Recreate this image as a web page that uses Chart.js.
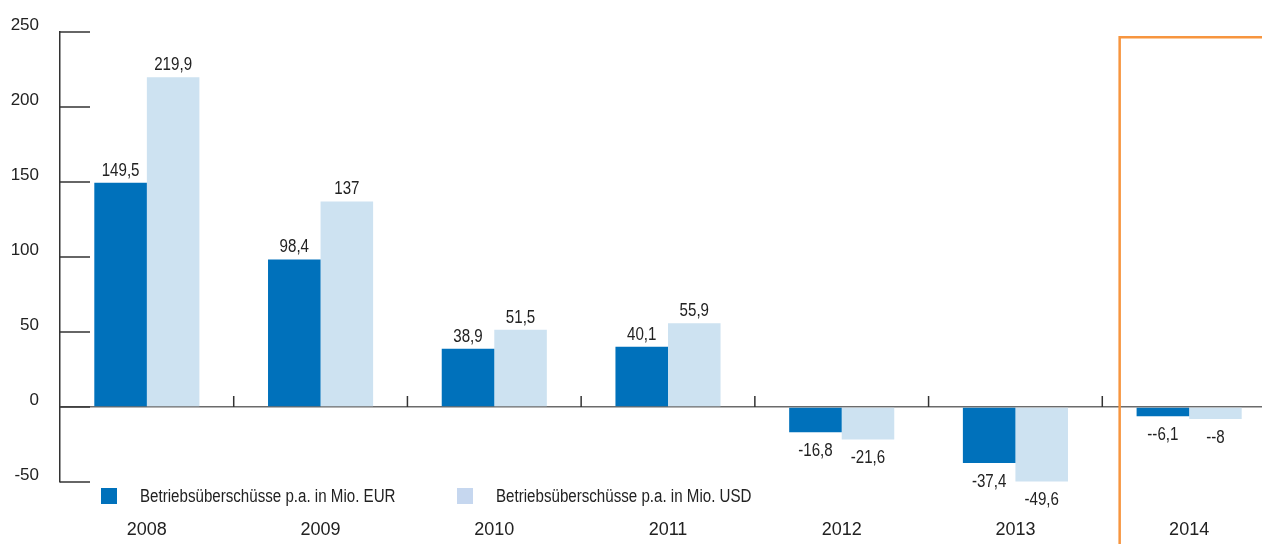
<!DOCTYPE html>
<html>
<head>
<meta charset="utf-8">
<script src="https://cdn.jsdelivr.net/npm/chart.js@4.4.1/dist/chart.umd.min.js"></script>
<style>
  html, body { margin: 0; padding: 0; background: #fff; overflow: hidden; }
  #wrap { width: 1276px; height: 544px; }
</style>
</head>
<body>
<div id="wrap"><canvas id="chart" width="1276" height="544"></canvas></div>
<script>
// data
const years = ['2008', '2009', '2010', '2011', '2012', '2013', '2014'];
const eurValues = [149.5, 98.4, 38.9, 40.1, -16.8, -37.4, -6.1];
const usdValues = [219.9, 137, 51.5, 55.9, -21.6, -49.6, -8];
const eurLabels = ['149,5', '98,4', '38,9', '40,1', '-16,8', '-37,4', '--6,1'];
const usdLabels = ['219,9', '137', '51,5', '55,9', '-21,6', '-49,6', '--8'];
const yTicks = [250, 200, 150, 100, 50, 0, -50];
const seriesNames = ['Betriebsüberschüsse p.a. in Mio. EUR', 'Betriebsüberschüsse p.a. in Mio. USD'];

const FONT = '"Liberation Sans", Arial, sans-serif';
const EUR_COLOR = '#0071bb';
const USD_COLOR = '#cde2f1';
const LEGEND_COLORS = ['#0071bb', '#c6d7ef'];
const TEXT = '#222';
const SQUEEZE = 0.84; // the original type is a narrow face

// draw narrow text by squeezing it horizontally
function narrowText(ctx, text, x, y) {
  ctx.save();
  ctx.translate(x, y);
  ctx.scale(SQUEEZE, 1);
  ctx.fillText(text, 0, 0);
  ctx.restore();
}

// ticks, value labels, legend and the orange frame
const decor = {
  id: 'decor',
  afterDatasetsDraw(chart) {
    const { ctx, chartArea: area, scales: { x, y } } = chart;
    const y0 = y.getPixelForValue(0);
    ctx.save();
    ctx.strokeStyle = '#333';
    ctx.lineWidth = 1.5;

    // y ticks drawn inside the plot
    y.ticks.forEach(t => {
      const py = y.getPixelForValue(t.value);
      ctx.beginPath();
      ctx.moveTo(area.left, py);
      ctx.lineTo(area.left + 30, py);
      ctx.stroke();
    });

    // small ticks between categories
    for (let i = 1; i < years.length; i++) {
      const px = (x.getPixelForValue(i - 1) + x.getPixelForValue(i)) / 2;
      ctx.beginPath();
      ctx.moveTo(px, y0 - 11);
      ctx.lineTo(px, y0);
      ctx.stroke();
    }

    // value labels
    const labelSets = [eurLabels, usdLabels];
    ctx.fillStyle = TEXT;
    ctx.font = '18px ' + FONT;
    ctx.textAlign = 'center';
    chart.data.datasets.forEach((ds, di) => {
      chart.getDatasetMeta(di).data.forEach((bar, i) => {
        const v = ds.data[i];
        if (v >= 0) {
          ctx.textBaseline = 'bottom';
          narrowText(ctx, labelSets[di][i], bar.x, bar.y - 3);
        } else {
          ctx.textBaseline = 'top';
          narrowText(ctx, labelSets[di][i], bar.x, bar.y + 10);
        }
      });
    });

    // legend inside the plot, under -50
    ctx.font = '18px ' + FONT;
    ctx.textAlign = 'left';
    ctx.textBaseline = 'middle';
    const legendX = [area.left + 41, area.left + 397];
    seriesNames.forEach((name, i) => {
      const lx = legendX[i];
      const ly = area.bottom + 6;
      ctx.fillStyle = LEGEND_COLORS[i];
      ctx.fillRect(lx, ly, 16, 16);
      ctx.fillStyle = TEXT;
      narrowText(ctx, name, lx + 39, ly + 9);
    });

    // orange frame round 2014
    const catW = x.getPixelForValue(1) - x.getPixelForValue(0);
    const bx = (x.getPixelForValue(5) + x.getPixelForValue(6)) / 2 + catW * 0.1;
    const top = y.getPixelForValue(246.5);
    ctx.strokeStyle = '#f7953f';
    ctx.lineWidth = 2.5;
    ctx.beginPath();
    ctx.moveTo(bx, chart.height);
    ctx.lineTo(bx, top);
    ctx.lineTo(chart.width, top);
    ctx.stroke();
    ctx.restore();
  }
};

new Chart(document.getElementById('chart'), {
  type: 'bar',
  data: {
    labels: years,
    datasets: [
      { label: seriesNames[0], data: eurValues, backgroundColor: EUR_COLOR, borderWidth: 0 },
      { label: seriesNames[1], data: usdValues, backgroundColor: USD_COLOR, borderWidth: 0 }
    ]
  },
  options: {
    responsive: false,
    animation: false,
    datasets: { bar: { barPercentage: 1, categoryPercentage: 0.605 } },
    layout: { padding: { top: 32, left: 0, right: 0, bottom: 0 } },
    plugins: { legend: { display: false }, tooltip: { enabled: false } },
    scales: {
      x: {
        grid: { display: false, drawTicks: false },
        border: { display: false },
        afterFit: s => { s.height = 62; },
        ticks: {
          padding: 37, color: TEXT, maxRotation: 0, autoSkip: false,
          font: { family: FONT, size: 18 }
        }
      },
      y: {
        min: -50,
        max: 250,
        afterBuildTicks: s => { s.ticks = yTicks.map(v => ({ value: v })); },
        afterFit: s => { s.width = 60; },
        grid: {
          drawTicks: false,
          lineWidth: 1.5,
          color: c => (c.tick && c.tick.value === 0 ? '#6b6b6b' : 'rgba(0,0,0,0)')
        },
        border: { display: true, color: '#333', width: 1.5 },
        ticks: {
          padding: 21, labelOffset: -7, color: TEXT,
          font: { family: FONT, size: 17 }
        }
      }
    }
  },
  plugins: [decor]
});
</script>
</body>
</html>
